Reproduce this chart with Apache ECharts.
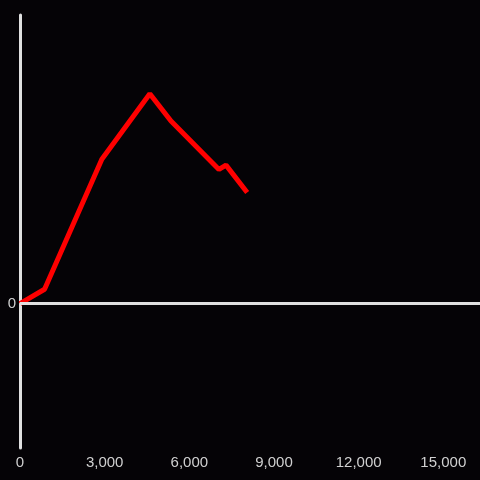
<!DOCTYPE html>
<html>
<head>
<meta charset="utf-8">
<script src="https://cdn.jsdelivr.net/npm/echarts@6/dist/echarts.min.js"></script>
<style>
  html, body { margin: 0; padding: 0; background: #050306; }
  #main { width: 480px; height: 480px; }
</style>
</head>
<body>
<div id="main"></div>
<script>
const xValues = [0, 870, 2900, 4600, 5350, 7050, 7300, 8050];
const yValues = [0, 100, 1000, 1455, 1265, 930, 960, 770];
const xTicks = [0, 3000, 6000, 9000, 12000, 15000];

const axisColor = '#e0e0e0';
const labelColor = '#d0d0d0';

const chart = echarts.init(document.getElementById('main'));
chart.setOption({
  backgroundColor: '#050306',
  animation: false,
  grid: { left: 20, right: 0, top: 15, bottom: 32 },
  xAxis: {
    type: 'value',
    min: 0,
    max: 16300,
    interval: 3000,
    axisLine: { show: false },
    axisTick: { show: false },
    splitLine: { show: false },
    axisLabel: {
      color: labelColor,
      fontSize: 15,
      fontFamily: 'Liberation Sans',
      margin: 7,
      showMaxLabel: false,
      formatter: (v) => xTicks.includes(v) ? v.toLocaleString('en-US') : ''
    }
  },
  yAxis: {
    type: 'value',
    min: -1000,
    max: 2000,
    interval: 1000,
    axisLine: { show: true, onZero: false, lineStyle: { color: axisColor, width: 3 } },
    axisTick: { show: false },
    splitLine: { show: false },
    axisLabel: {
      color: labelColor,
      fontSize: 15,
      fontFamily: 'Liberation Sans',
      margin: 4,
      formatter: (v) => v === 0 ? '0' : ''
    }
  },
  series: [{
    type: 'line',
    data: xValues.map((x, i) => [x, yValues[i]]),
    showSymbol: false,
    lineStyle: { color: '#ff0000', width: 5 },
    markLine: {
      silent: true,
      symbol: 'none',
      label: { show: false },
      lineStyle: { color: axisColor, width: 3, type: 'solid' },
      data: [{ yAxis: 0 }]
    },
    z: 3
  }]
});
</script>
</body>
</html>
